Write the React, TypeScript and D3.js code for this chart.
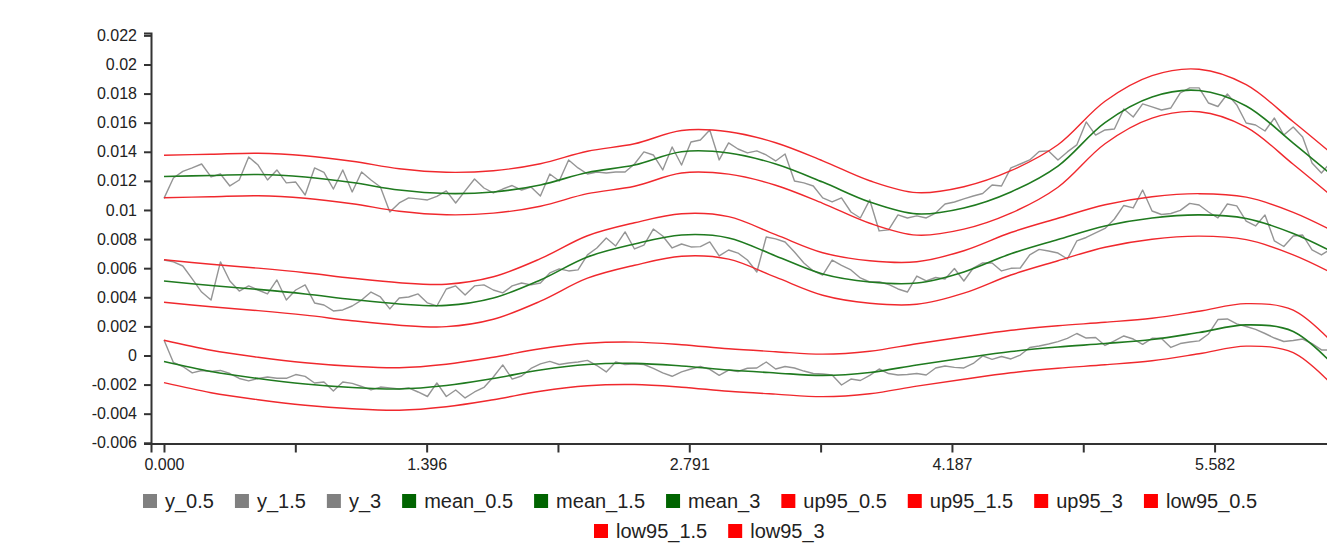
import { useEffect, useRef } from 'react';
import * as d3 from 'd3';

// sampling grids
const xSmooth = [
  0, 0.25, 0.5, 0.75, 1, 1.25, 1.5, 1.75, 2, 2.25, 2.5, 2.75, 3, 3.25, 3.5, 3.75, 4, 4.25, 4.5,
  4.75, 5, 5.25, 5.5, 5.75, 6, 6.25,
];
const NOISY_STEP = 0.05;
const xNoisy = d3.range(126).map((i) => +(i * NOISY_STEP).toFixed(2));

// axis ticks
const xTicks = [0, 0.6978, 1.3956, 2.0933, 2.7911, 3.4889, 4.1867, 4.8844, 5.5822, 6.28];
const yTicks = d3.range(-6, 23, 2).map((v) => v / 1000);

// observed series
const y_0_5 = [
  0.00107, -0.00048, -0.00076, -0.0012, -0.00103, -0.0011, -0.00103, -0.00124, -0.00158, -0.00175,
  -0.00158, -0.00148, -0.00157, -0.00157, -0.00131, -0.00144, -0.00189, -0.00182, -0.00244, -0.00182,
  -0.00192, -0.00213, -0.00237, -0.00217, -0.00223, -0.0023, -0.00223, -0.00251, -0.00282, -0.00189,
  -0.00282, -0.00237, -0.00292, -0.00251, -0.0022, -0.00148, -0.00065, -0.00162, -0.00141, -0.00089,
  -0.00058, -0.00041, -0.00062, -0.00052, -0.00045, -0.00034, -0.00069, -0.00113, -0.00045, -0.00062,
  -0.00058, -0.00062, -0.00088, -0.0012, -0.00143, -0.00113, -0.00093, -0.00076, -0.00096, -0.00137,
  -0.001, -0.0011, -0.00088, -0.00086, -0.00045, -0.00093, -0.00076, -0.00086, -0.00107, -0.00124,
  -0.00127, -0.00134, -0.00203, -0.00162, -0.00172, -0.00137, -0.00093, -0.00124, -0.00134, -0.00131,
  -0.00124, -0.00134, -0.00086, -0.00072, -0.00082, -0.00086, -0.00055, -0.00003, -0.00027, -0.00007,
  -0.00024, 0.00003, 0.00055, 0.00065, 0.00079, 0.00095, 0.00117, 0.00151, 0.0012, 0.00124,
  0.00069, 0.001, 0.00134, 0.00113, 0.00076, 0.00118, 0.00117, 0.00055, 0.00082, 0.00093,
  0.001, 0.00148, 0.00247, 0.00251, 0.00217, 0.00199, 0.00179, 0.00151, 0.0012, 0.00096,
  0.00103, 0.00113, 0.00082, 0.00038, 0.00038, 0.00024,
];
const y_1_5 = [
  0.00656, 0.00643, 0.00615, 0.00526, 0.00436, 0.00381, 0.00643, 0.00512, 0.00443, 0.00478,
  0.0045, 0.00423, 0.00519, 0.00381, 0.0045, 0.00485, 0.00361, 0.00347, 0.00306, 0.00313,
  0.0034, 0.00381, 0.00436, 0.00402, 0.0032, 0.00395, 0.00402, 0.00423, 0.00361, 0.0034,
  0.00457, 0.00478, 0.00416, 0.00478, 0.00485, 0.0045, 0.0043, 0.00478, 0.00498, 0.00485,
  0.00498, 0.00567, 0.00595, 0.00581, 0.00588, 0.00691, 0.00739, 0.00808, 0.00753, 0.00849,
  0.00732, 0.00759, 0.00869, 0.00821, 0.00739, 0.00766, 0.00746, 0.00748, 0.0078, 0.00684,
  0.00725, 0.00704, 0.00656, 0.00574, 0.00814, 0.00801, 0.0078, 0.00711, 0.00636, 0.00581,
  0.00553, 0.00656, 0.00619, 0.00588, 0.00533, 0.00505, 0.00507, 0.00488, 0.00457, 0.00436,
  0.00546, 0.00512, 0.00536, 0.00526, 0.00598, 0.00512, 0.00601, 0.00636, 0.00636, 0.00581,
  0.00599, 0.00601, 0.00691, 0.00729, 0.00718, 0.00704, 0.00663, 0.00787, 0.00811, 0.00842,
  0.00873, 0.00938, 0.01031, 0.01014, 0.01137, 0.00993, 0.00969, 0.00976, 0.00997, 0.01045,
  0.01034, 0.00986, 0.00945, 0.01041, 0.01028, 0.00924, 0.0089, 0.00966, 0.00787, 0.00749,
  0.00821, 0.00828, 0.00725, 0.00691, 0.00732, 0.00691,
];
const y_3 = [
  0.0108, 0.0122, 0.01265, 0.01289, 0.01316, 0.01227, 0.01247, 0.01165, 0.01206, 0.01364,
  0.01309, 0.01206, 0.01275, 0.01186, 0.01192, 0.01103, 0.01289, 0.01258, 0.01144, 0.01275,
  0.01124, 0.01261, 0.01206, 0.01158, 0.00986, 0.01048, 0.01083, 0.01076, 0.01069, 0.01093,
  0.01131, 0.01048, 0.01131, 0.01213, 0.01151, 0.01117, 0.01144, 0.01168, 0.01137, 0.01158,
  0.01096, 0.01247, 0.01199, 0.01344, 0.01289, 0.01247, 0.01261, 0.01254, 0.01261, 0.01261,
  0.01316, 0.01399, 0.01378, 0.01275, 0.01433, 0.01309, 0.01467, 0.01481, 0.0155, 0.01344,
  0.01461, 0.01419, 0.01392, 0.01406, 0.01378, 0.01337, 0.01385, 0.01199, 0.01186, 0.01165,
  0.01083, 0.01055, 0.01083, 0.00986, 0.00945, 0.01069, 0.00856, 0.00863, 0.00966, 0.00945,
  0.00959, 0.00945, 0.00979, 0.01041, 0.01055, 0.01076, 0.01096, 0.01113, 0.01172, 0.01165,
  0.01289, 0.01316, 0.01344, 0.01402, 0.01406, 0.01344, 0.01399, 0.01447, 0.01605, 0.01515,
  0.0155, 0.01557, 0.01694, 0.01639, 0.01729, 0.01708, 0.01687, 0.01701, 0.01804, 0.01839,
  0.01839, 0.01735, 0.01711, 0.01797, 0.01722, 0.01598, 0.01584, 0.01543, 0.01632, 0.01515,
  0.0157, 0.01502, 0.01323, 0.01254, 0.0133, 0.01275,
];

// fitted means and 95% bands
const mean_0_5 = [
  -0.00041, -0.0011, -0.00158, -0.00196, -0.0022, -0.0023, -0.00206, -0.00158, -0.001, -0.00062,
  -0.00054, -0.00072, -0.001, -0.0012, -0.00137, -0.00117, -0.00065, -0.00017, 0.00027, 0.00058,
  0.00082, 0.0011, 0.00158, 0.0021, 0.00165, -0.00113,
];
const mean_1_5 = [
  0.00512, 0.00481, 0.00454, 0.00423, 0.00385, 0.00354, 0.00344, 0.00395, 0.00519, 0.00677,
  0.00766, 0.00828, 0.00808, 0.00684, 0.0056, 0.00505, 0.00498, 0.00574, 0.00699, 0.00797,
  0.0089, 0.00945, 0.00966, 0.00942, 0.00838, 0.00684,
];
const mean_3 = [
  0.0123, 0.01237, 0.01244, 0.01227, 0.01189, 0.01137, 0.01113, 0.01124, 0.01172, 0.01258,
  0.01309, 0.014, 0.01392, 0.01316, 0.01192, 0.01055, 0.00973, 0.01014, 0.01124, 0.01302,
  0.01601, 0.01777, 0.01821, 0.01715, 0.0146, 0.01192,
];
const up95_0_5 = [
  0.00105, 0.00036, -0.00012, -0.0005, -0.00074, -0.00084, -0.0006, -0.00012, 0.00046, 0.00084,
  0.00092, 0.00074, 0.00046, 0.00026, 0.00009, 0.00029, 0.00081, 0.00129, 0.00173, 0.00204,
  0.00228, 0.00256, 0.00304, 0.00356, 0.00311, 0.00033,
];
const up95_1_5 = [
  0.00658, 0.00627, 0.006, 0.00569, 0.00531, 0.005, 0.0049, 0.00541, 0.00665, 0.00823,
  0.00912, 0.00974, 0.00954, 0.0083, 0.00706, 0.00651, 0.00644, 0.0072, 0.00845, 0.00943,
  0.01036, 0.01091, 0.01112, 0.01088, 0.00984, 0.0083,
];
const up95_3 = [
  0.01376, 0.01383, 0.0139, 0.01373, 0.01335, 0.01283, 0.01259, 0.0127, 0.01318, 0.01404,
  0.01455, 0.01546, 0.01538, 0.01462, 0.01338, 0.01201, 0.01119, 0.0116, 0.0127, 0.01448,
  0.01747, 0.01923, 0.01967, 0.01861, 0.01606, 0.01338,
];
const low95_0_5 = [
  -0.00187, -0.00256, -0.00304, -0.00342, -0.00366, -0.00376, -0.00352, -0.00304, -0.00246, -0.00208,
  -0.002, -0.00218, -0.00246, -0.00266, -0.00283, -0.00263, -0.00211, -0.00163, -0.00119, -0.00088,
  -0.00064, -0.00036, 0.00012, 0.00064, 0.00019, -0.00259,
];
const low95_1_5 = [
  0.00366, 0.00335, 0.00308, 0.00277, 0.00239, 0.00208, 0.00198, 0.00249, 0.00373, 0.00531,
  0.0062, 0.00682, 0.00662, 0.00538, 0.00414, 0.00359, 0.00352, 0.00428, 0.00553, 0.00651,
  0.00744, 0.00799, 0.0082, 0.00796, 0.00692, 0.00538,
];
const low95_3 = [
  0.01084, 0.01091, 0.01098, 0.01081, 0.01043, 0.00991, 0.00967, 0.00978, 0.01026, 0.01112,
  0.01163, 0.01254, 0.01246, 0.0117, 0.01046, 0.00909, 0.00827, 0.00868, 0.00978, 0.01156,
  0.01455, 0.01631, 0.01675, 0.01569, 0.01314, 0.01046,
];

type Series = { name: string; x: number[]; y: number[]; kind: 'obs' | 'mean' | 'band' };

const series: Series[] = [
  { name: 'y_0.5', x: xNoisy, y: y_0_5, kind: 'obs' },
  { name: 'y_1.5', x: xNoisy, y: y_1_5, kind: 'obs' },
  { name: 'y_3', x: xNoisy, y: y_3, kind: 'obs' },
  { name: 'mean_0.5', x: xSmooth, y: mean_0_5, kind: 'mean' },
  { name: 'mean_1.5', x: xSmooth, y: mean_1_5, kind: 'mean' },
  { name: 'mean_3', x: xSmooth, y: mean_3, kind: 'mean' },
  { name: 'up95_0.5', x: xSmooth, y: up95_0_5, kind: 'band' },
  { name: 'up95_1.5', x: xSmooth, y: up95_1_5, kind: 'band' },
  { name: 'up95_3', x: xSmooth, y: up95_3, kind: 'band' },
  { name: 'low95_0.5', x: xSmooth, y: low95_0_5, kind: 'band' },
  { name: 'low95_1.5', x: xSmooth, y: low95_1_5, kind: 'band' },
  { name: 'low95_3', x: xSmooth, y: low95_3, kind: 'band' },
];

const lineColor = { obs: '#959595', mean: '#1f7a1f', band: '#f0282d' };
const swatchColor = { obs: '#808080', mean: '#006400', band: '#ff0000' };
const lineWidth = { obs: 1.4, mean: 1.6, band: 1.4 };

const WIDTH = 1327;
const HEIGHT = 546;
const FONT = 'Arial, "Liberation Sans", sans-serif';

const App = () => {
  const svgRef = useRef<SVGSVGElement>(null);

  useEffect(() => {
    if (!svgRef.current) return;
    const svg = d3.select(svgRef.current);
    svg.selectAll('*').remove();

    const x = d3.scaleLinear().domain([-0.069, 6.349]).range([151, 1358.9]);
    const y = d3.scaleLinear().domain([-0.00605, 0.02217]).range([443.5, 32.9]);

    const g = svg.append('g');

    // lines
    series.forEach((s) => {
      const pts = s.x.map((xv, i) => [xv, s.y[i]] as [number, number]);
      const line = d3
        .line<[number, number]>()
        .x((d) => x(d[0]))
        .y((d) => y(d[1]))
        .curve(s.kind === 'obs' ? d3.curveLinear : d3.curveCatmullRom.alpha(0.5));
      g.append('path')
        .datum(pts)
        .attr('d', line)
        .attr('fill', 'none')
        .attr('stroke', lineColor[s.kind])
        .attr('stroke-width', lineWidth[s.kind])
        .attr('stroke-linejoin', 'round');
    });

    // y axis
    const yAxis = g
      .append('g')
      .attr('transform', 'translate(151,0)')
      .call(
        d3
          .axisLeft(y)
          .tickValues(yTicks)
          .tickSize(7)
          .tickPadding(7)
          .tickFormat((d) => String(+(+d).toFixed(3)))
      );

    // x axis
    const xAxis = g
      .append('g')
      .attr('transform', 'translate(0,443.5)')
      .call(
        d3
          .axisBottom(x)
          .tickValues(xTicks)
          .tickSize(9)
          .tickPadding(6)
          .tickFormat((d, i) => (i % 2 === 0 ? d3.format('.3f')(+d) : ''))
      );

    [yAxis, xAxis].forEach((ax) => {
      ax.selectAll('path, line').attr('stroke', '#333').attr('stroke-width', 2);
      ax.selectAll('text')
        .attr('fill', '#222')
        .style('font-family', FONT)
        .style('font-size', '16px');
    });

    // legend
    const rows = [
      { items: series.slice(0, 10), x0: 143, cy: 501 },
      { items: series.slice(10), x0: 594, cy: 531 },
    ];
    const sw = 14;
    rows.forEach((row) => {
      let cx = row.x0;
      row.items.forEach((s) => {
        const item = g.append('g').attr('transform', `translate(${cx},${row.cy})`);
        item
          .append('rect')
          .attr('x', 0)
          .attr('y', -sw / 2)
          .attr('width', sw)
          .attr('height', sw)
          .attr('fill', swatchColor[s.kind]);
        const t = item
          .append('text')
          .attr('x', sw + 8)
          .attr('y', 7)
          .attr('fill', '#222')
          .style('font-family', FONT)
          .style('font-size', '20px')
          .text(s.name);
        const tw = (t.node() as SVGTextElement).getComputedTextLength();
        cx += sw + 8 + tw + 21;
      });
    });
  }, []);

  return (
    <div style={{ position: 'absolute', left: 0, top: 0 }}>
      <svg ref={svgRef} width={WIDTH} height={HEIGHT} style={{ display: 'block', background: '#fff' }} />
    </div>
  );
};

export default App;
